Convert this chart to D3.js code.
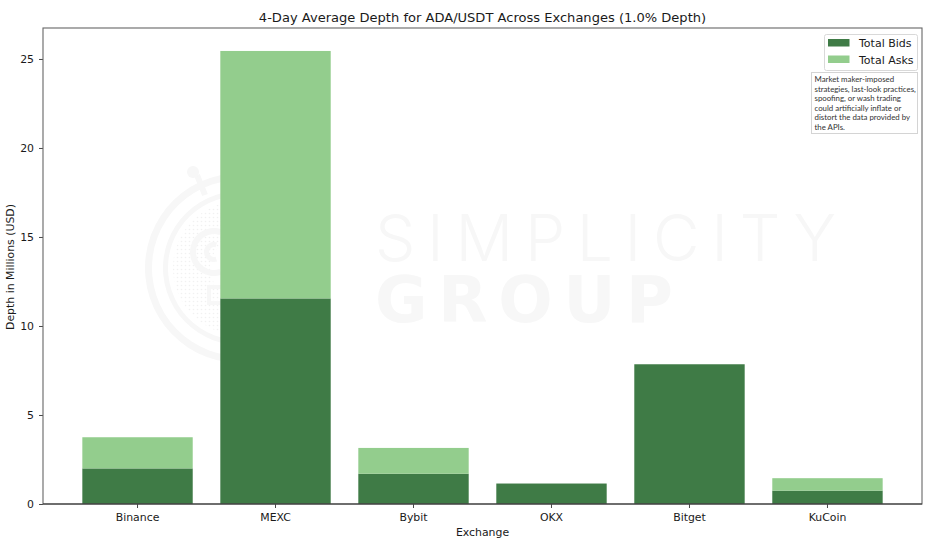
<!DOCTYPE html>
<html>
<head>
<meta charset="utf-8">
<script src="https://cdn.jsdelivr.net/npm/d3@7"></script>
<style>
  html, body { margin: 0; padding: 0; background: #fff; }
  svg { display: block; }
  text { font-family: "DejaVu Sans", sans-serif; fill: #1a1a1a; }
</style>
</head>
<body>
<div id="chart"></div>
<script>
const exchanges = ['Binance', 'MEXC', 'Bybit', 'OKX', 'Bitget', 'KuCoin'];
const totalBids = [2.0, 11.55, 1.7, 1.15, 7.85, 0.75];
const totalAsks = [1.75, 13.9, 1.45, 0, 0, 0.7];
const yTicks = [0, 5, 10, 15, 20, 25];
const noteLines = [
  'Market maker-imposed',
  'strategies, last-look practices,',
  'spoofing, or wash trading',
  'could artificially inflate or',
  'distort the data provided by',
  'the APIs.'
];

const width = 941, height = 549;
const margin = {top: 28, right: 19, bottom: 45, left: 43};
const dark = '#3f7b46', light = '#93cd8d', mark = '#f7f7f7';

const svg = d3.select('#chart').append('svg')
  .attr('width', width)
  .attr('height', height);

const x = d3.scaleBand()
  .domain(exchanges)
  .range([margin.left, width - margin.right])
  .paddingInner(0.2)
  .paddingOuter(0.285);

const y = d3.scaleLinear()
  .domain([0, 26.74])
  .range([height - margin.bottom, margin.top]);

// watermark logo, sits under the bars
svg.append('defs').append('pattern')
  .attr('id', 'stipple')
  .attr('width', 4).attr('height', 4)
  .attr('patternUnits', 'userSpaceOnUse')
  .append('circle')
  .attr('cx', 1.5).attr('cy', 1.5).attr('r', 0.8)
  .attr('fill', '#f1f1f1');

const logo = svg.append('g').attr('transform', 'translate(240,268)');
const ring = d3.arc();
const tau = Math.PI * 2;
logo.append('path')
  .attr('d', ring({innerRadius: 30, outerRadius: 67, startAngle: tau * 0.45, endAngle: tau * 0.95}))
  .attr('fill', 'url(#stipple)');
logo.append('path')
  .attr('d', ring({innerRadius: 88, outerRadius: 95, startAngle: tau * 0.45, endAngle: tau * 1.02}))
  .attr('fill', mark);
logo.append('path')
  .attr('d', ring({innerRadius: 72, outerRadius: 77, startAngle: tau * 0.45, endAngle: tau * 1.02}))
  .attr('fill', mark);
logo.append('line')
  .attr('x1', -43).attr('y1', -93).attr('x2', -35).attr('y2', -73)
  .attr('stroke', mark).attr('stroke-width', 6);
logo.append('circle')
  .attr('cx', -47).attr('cy', -96).attr('r', 6)
  .attr('fill', mark);
logo.append('path')
  .attr('transform', 'translate(-26,-16)')
  .attr('d', ring({innerRadius: 18, outerRadius: 24, startAngle: tau * 0.45, endAngle: tau * 1.05}))
  .attr('fill', mark);
logo.append('path')
  .attr('transform', 'translate(-26,-16)')
  .attr('d', ring({innerRadius: 5, outerRadius: 10, startAngle: tau * 0.45, endAngle: tau * 1.05}))
  .attr('fill', mark);
logo.append('path')
  .attr('d', 'M-18,19H-31V35H-18')
  .attr('fill', 'none')
  .attr('stroke', mark)
  .attr('stroke-width', 4);

svg.append('text')
  .attr('x', 375).attr('y', 261)
  .attr('textLength', 461).attr('lengthAdjust', 'spacing')
  .style('font-family', 'Inter, Lato, sans-serif')
  .style('font-weight', 300)
  .style('font-size', '64px')
  .style('fill', mark)
  .text('SIMPLICITY');
svg.append('text')
  .attr('x', 375).attr('y', 322)
  .attr('textLength', 298).attr('lengthAdjust', 'spacing')
  .style('font-weight', 700)
  .style('font-size', '64px')
  .style('fill', mark)
  .text('GROUP');

// stacked bars
svg.selectAll('.bid')
  .data(exchanges)
  .enter().append('rect')
  .attr('class', 'bid')
  .attr('x', d => x(d))
  .attr('width', x.bandwidth())
  .attr('y', (d, i) => y(totalBids[i]))
  .attr('height', (d, i) => y(0) - y(totalBids[i]))
  .attr('fill', dark);

svg.selectAll('.ask')
  .data(exchanges)
  .enter().append('rect')
  .attr('class', 'ask')
  .attr('x', d => x(d))
  .attr('width', x.bandwidth())
  .attr('y', (d, i) => y(totalBids[i] + totalAsks[i]))
  .attr('height', (d, i) => y(totalBids[i]) - y(totalBids[i] + totalAsks[i]))
  .attr('fill', light);

// axes
const xAxis = svg.append('g')
  .attr('transform', 'translate(0,' + y.range()[0] + ')')
  .call(d3.axisBottom(x).tickSize(4).tickPadding(5));
const yAxis = svg.append('g')
  .attr('transform', 'translate(' + margin.left + ',0)')
  .call(d3.axisLeft(y).tickValues(yTicks).tickSize(4).tickPadding(5));

[xAxis, yAxis].forEach(a => {
  a.selectAll('text').style('font-size', '10.9px').style('font-family', '"DejaVu Sans", sans-serif');
  a.selectAll('line').attr('stroke', '#333').attr('stroke-width', 0.9);
  a.select('.domain').remove();
});

svg.append('rect')
  .attr('x', margin.left)
  .attr('y', margin.top)
  .attr('width', width - margin.left - margin.right)
  .attr('height', height - margin.top - margin.bottom)
  .attr('fill', 'none')
  .attr('stroke', '#666')
  .attr('stroke-width', 1.1);
svg.append('line')
  .attr('x1', margin.left).attr('x2', width - margin.right)
  .attr('y1', y(0)).attr('y2', y(0))
  .attr('stroke', '#333')
  .attr('stroke-width', 1.1);

// titles
svg.append('text')
  .attr('x', 482.5).attr('y', 22)
  .attr('text-anchor', 'middle')
  .style('font-size', '13.05px')
  .text('4-Day Average Depth for ADA/USDT Across Exchanges (1.0% Depth)');
svg.append('text')
  .attr('x', 482.5).attr('y', 536)
  .attr('text-anchor', 'middle')
  .style('font-size', '10.9px')
  .text('Exchange');
svg.append('text')
  .attr('transform', 'translate(14,267) rotate(-90)')
  .attr('text-anchor', 'middle')
  .style('font-size', '10.9px')
  .text('Depth in Millions (USD)');

// legend
const legend = svg.append('g');
legend.append('rect')
  .attr('x', 824.5).attr('y', 34.5)
  .attr('width', 93).attr('height', 36)
  .attr('rx', 2)
  .attr('fill', '#fff')
  .attr('stroke', '#d9d9d9');
[['Total Bids', dark], ['Total Asks', light]].forEach((d, i) => {
  legend.append('rect')
    .attr('x', 828).attr('y', 39 + i * 16.5)
    .attr('width', 21.5).attr('height', 7.5)
    .attr('fill', d[1]);
  legend.append('text')
    .attr('x', 859).attr('y', 47 + i * 16.5)
    .style('font-size', '11px')
    .text(d[0]);
});

// disclaimer box
const note = svg.append('g');
note.append('rect')
  .attr('x', 811.5).attr('y', 72.5)
  .attr('width', 106).attr('height', 61)
  .attr('fill', '#fff')
  .attr('stroke', '#d4d4d4');
note.selectAll('text')
  .data(noteLines)
  .enter().append('text')
  .attr('x', 814.5)
  .attr('y', (d, i) => 82 + i * 9.6)
  .style('font-family', 'Lato, sans-serif')
  .style('font-size', '7.85px')
  .style('fill', '#333')
  .text(d => d);
</script>
</body>
</html>
